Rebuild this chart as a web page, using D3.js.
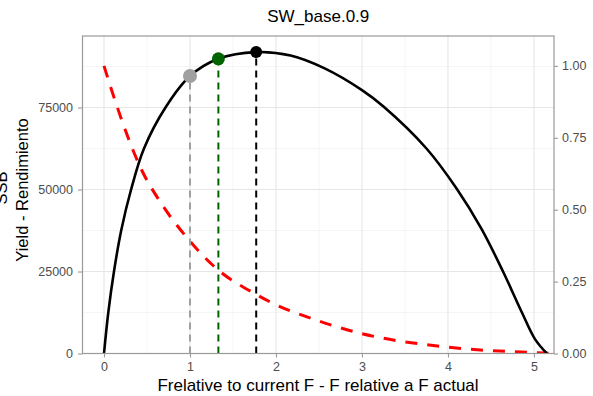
<!DOCTYPE html>
<html><head><meta charset="utf-8">
<script src="https://cdn.jsdelivr.net/npm/d3@7"></script>
<style>body{margin:0;background:#fff}svg{display:block}text{font-family:"Liberation Sans",Arial,sans-serif}</style>
</head><body>
<script>
const title = "SW_base.0.9";
const xLabel = "Frelative to current F - F relative a F actual";
const yLabel = "Yield - Rendimiento";
const yLabelClipped = "SSB";
const yieldF = [0, 0.05, 0.116, 0.2, 0.315, 0.465, 0.715, 1.0, 1.33, 1.77, 2.17, 2.56, 3.0, 3.25, 3.75, 4.10, 4.39, 4.64, 4.86, 5.01, 5.15];
const yieldV = [0, 12500, 25000, 37500, 50000, 62500, 75000, 84600, 89850, 91900, 90850, 87000, 80300, 75300, 62500, 50300, 38000, 25000, 12500, 4470, 0];
const ssbF = [0, 0.128, 0.438, 0.67, 0.973, 1.29, 1.755, 2.1, 2.26, 3.0, 4.0, 5.0, 5.17];
const ssbV = [1.0, 0.88, 0.638, 0.52, 0.40, 0.30, 0.208, 0.156, 0.138, 0.069, 0.022, 0.003, 0.001];
const refF = [1.0, 1.33, 1.77];
const refYield = [84600, 89850, 91900];
const refColor = ["#a0a0a0", "#006400", "#000000"];
const refRadius = [7, 6.5, 6];
const xTicks = [0, 1, 2, 3, 4, 5];
const yTicks = [0, 25000, 50000, 75000];
const rTicks = [0, 0.25, 0.5, 0.75, 1.0];

const W = 593, H = 396;
const L = 82.5, R = 554, T = 36, B = 353.5;
const svg = d3.select("body").append("svg").attr("width", W).attr("height", H);
const x = d3.scaleLinear().domain([-0.25, 5.233]).range([L, R]);
const y = d3.scaleLinear().domain([0, 96800]).range([B, T]);
const yR = d3.scaleLinear().domain([0, 1.104]).range([B, T]);

svg.append("defs").append("clipPath").attr("id","clip").append("rect")
  .attr("x",L).attr("y",T).attr("width",R-L).attr("height",B-T);

// grid
const g = svg.append("g");
const xMinor = [0.5,1.5,2.5,3.5,4.5];
const yMinor = [12500,37500,62500,87500];
g.selectAll(".xm").data(xMinor).enter().append("line")
  .attr("x1",d=>x(d)).attr("x2",d=>x(d)).attr("y1",T).attr("y2",B).attr("stroke","#f0f0f0").attr("stroke-width",0.7);
g.selectAll(".ym").data(yMinor).enter().append("line")
  .attr("y1",d=>y(d)).attr("y2",d=>y(d)).attr("x1",L).attr("x2",R).attr("stroke","#f0f0f0").attr("stroke-width",0.7);
g.selectAll(".xg").data(xTicks).enter().append("line")
  .attr("x1",d=>x(d)).attr("x2",d=>x(d)).attr("y1",T).attr("y2",B).attr("stroke","#e6e6e6").attr("stroke-width",1.1);
g.selectAll(".yg").data(yTicks).enter().append("line")
  .attr("y1",d=>y(d)).attr("y2",d=>y(d)).attr("x1",L).attr("x2",R).attr("stroke","#e6e6e6").attr("stroke-width",1.1);

const plot = svg.append("g").attr("clip-path","url(#clip)");
// red SSB
plot.append("path").datum(ssbF.map((f,i)=>[f, ssbV[i]]))
  .attr("d", d3.line().x(d=>x(d[0])).y(d=>yR(d[1])).curve(d3.curveMonotoneX))
  .attr("fill","none").attr("stroke","#ff0000").attr("stroke-width",3).attr("stroke-dasharray","12,10");
// ref vertical lines
refF.forEach((f,i)=>{
  plot.append("line").attr("x1",x(f)).attr("x2",x(f)).attr("y1",y(0)).attr("y2",y(refYield[i]))
    .attr("stroke",refColor[i]).attr("stroke-width",2).attr("stroke-dasharray","7,5");
});
// yield curve
plot.append("path").datum(yieldF.map((f,i)=>[f, yieldV[i]]))
  .attr("d", d3.line().x(d=>x(d[0])).y(d=>y(d[1])).curve(d3.curveCatmullRom.alpha(0.5)))
  .attr("fill","none").attr("stroke","#000").attr("stroke-width",2.6);
refF.forEach((f,i)=>{
  plot.append("circle").attr("cx",x(f)).attr("cy",y(refYield[i])).attr("r",refRadius[i]).attr("fill",refColor[i]);
});

// border
svg.append("rect").attr("x",L).attr("y",T).attr("width",R-L).attr("height",B-T)
  .attr("fill","none").attr("stroke","#999").attr("stroke-width",1.2);

// axes
function styleAxis(sel){
  sel.select(".domain").remove();
  sel.selectAll(".tick line").attr("stroke","#999").attr("stroke-width",1.1);
  sel.selectAll(".tick text").attr("fill","#4d4d4d").style("font-size","12.5px");
}
svg.append("g").attr("transform",`translate(0,${B})`)
  .call(d3.axisBottom(x).tickValues(xTicks).tickSize(4).tickPadding(5).tickFormat(d3.format("d"))).call(styleAxis);
svg.append("g").attr("transform",`translate(${L},0)`)
  .call(d3.axisLeft(y).tickValues(yTicks).tickSize(4.5).tickPadding(5).tickFormat(d3.format("d"))).call(styleAxis);
svg.append("g").attr("transform",`translate(${R},0)`)
  .call(d3.axisRight(yR).tickValues(rTicks).tickSize(4).tickPadding(4).tickFormat(d3.format(".2f"))).call(styleAxis);

svg.append("text").attr("x",(L+R)/2).attr("y",22).attr("text-anchor","middle")
  .style("font-size","17px").attr("fill","#000").text(title);
svg.append("text").attr("x",318).attr("y",391).attr("text-anchor","middle")
  .style("font-size","17px").attr("fill","#000").text(xLabel);
svg.append("text").attr("transform",`translate(28,190) rotate(-90)`).attr("text-anchor","middle")
  .style("font-size","16.5px").attr("fill","#000").text(yLabel);
svg.append("text").attr("transform",`translate(7,188) rotate(-90)`).attr("text-anchor","middle")
  .style("font-size","16.5px").attr("fill","#000").text(yLabelClipped);
</script>
</body></html>
